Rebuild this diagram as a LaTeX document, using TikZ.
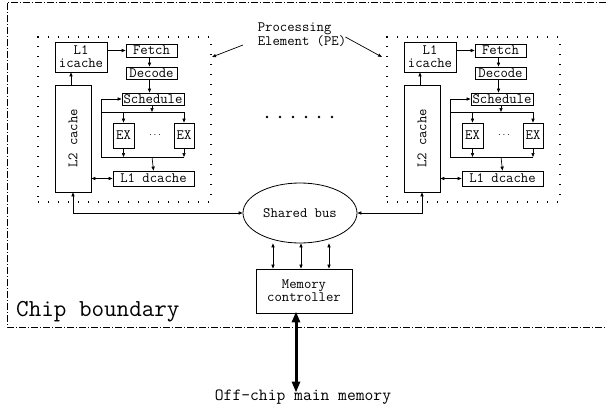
\documentclass[tikz,border=0pt]{standalone}
\usepackage{fontspec}
\usetikzlibrary{arrows.meta,shapes.geometric}
\newcommand\txtsize{\ttfamily\fontsize{14.3}{13}\selectfont}
\tikzset{
  unit/.style={draw, line width=0.8pt, inner sep=0pt, font=\txtsize},
  pebox/.style={draw, line width=1.3pt, dash pattern=on 1.3pt off 8.7pt, inner sep=0pt},
  chipline/.style={line width=0.8pt, dash pattern=on 7pt off 2pt on 1pt off 2pt},
  wire/.style={line width=0.7pt},
  arr/.style={wire, -{Triangle[length=4pt,width=3.2pt]}},
  darr/.style={wire, {Triangle[length=4pt,width=3.2pt]}-{Triangle[length=4pt,width=3.2pt]}},
  label/.style={font=\txtsize, inner sep=0pt},
}
\begin{document}
\begin{tikzpicture}[x=1pt,y=-1pt]
\useasboundingbox (0,0) rectangle (606,407);

% chip boundary
\draw[chipline] (606,2) -- (7,2) -- (7,327) -- (606,327);
\node[label, font=\ttfamily\fontsize{24.4}{24}\selectfont, anchor=west] (chip) at (16,312) {Chip boundary};

% the two processing elements
\foreach \pfx/\dx in {L-/0, R-/349} {
\begin{scope}[xshift=\dx, name prefix=\pfx]
  \node[pebox, minimum width=173, minimum height=165] (pe) at (124.5,119.5) {};
  \node[unit, minimum width=52, minimum height=30, align=center] (icache) at (81,57) {L1\\icache};
  \node[unit, minimum width=51, minimum height=13] (fetch) at (151.5,50.5) {Fetch};
  \node[unit, minimum width=51, minimum height=12] (decode) at (151.5,73) {Decode};
  \node[unit, minimum width=62, minimum height=12] (sched) at (153,99) {Schedule};
  \node[unit, minimum width=36, minimum height=107] (l2) at (73,138.5) {};
  \node[label, rotate=90] (l2text) at (l2.center) {L2 cache};
  \node[unit, minimum width=21, minimum height=25] (ex1) at (123.5,135.5) {EX};
  \node[unit, minimum width=20, minimum height=25] (ex2) at (184,135.5) {EX};
  \node[inner sep=0pt] (exdots) at (155,135) {$\cdots$};
  \node[unit, minimum width=81, minimum height=15] (dcache) at (153.5,178.5) {L1 dcache};

  \coordinate (issue) at (152,112);
  \coordinate (issueL) at (101,112);
  \coordinate (collect) at (152,157);
  \coordinate (collectL) at (101,157);

  \draw[arr] (fetch.west -| icache.east) -- (fetch.west);
  \draw[arr] ([xshift=-2]fetch.south) -- ([xshift=-2]decode.north);
  \draw[arr] ([xshift=-2]decode.south) -- ([xshift=-2]decode.south |- sched.north);
  \draw[arr] (issue |- sched.south) -- (issue);
  \draw[wire] (issueL) -- (issue -| ex2);
  \draw[arr] (issue -| ex1) -- (ex1.north);
  \draw[arr] (issue -| ex2) -- (ex2.north);
  \draw[arr] (ex1.south) -- (collect -| ex1);
  \draw[arr] (ex2.south) -- (collect -| ex2);
  \draw[wire] (collect -| ex2) -- (collectL) -- (collectL |- sched.west);
  \draw[arr] (collectL |- sched.west) -- (sched.west);
  \draw[arr] (collect) -- (dcache.north);
  \draw[arr] ([xshift=-2]l2.north) -- ([xshift=-2]l2.north |- icache.south);
  \draw[darr] (dcache.west -| l2.east) -- (dcache.west);
\end{scope}
}

% label for the processing elements
\node[label, align=left] (pelabel) at (302,35) {Processing\\Element (PE)};
\coordinate (peL) at (212,57);
\coordinate (peR) at (382,57);
\draw[wire, -{Triangle[length=4pt,width=3pt]}] (243,45) -- (peL);
\draw[wire, -{Triangle[length=4pt,width=3pt]}] (pelabel.east) ++(-1,2) -- (peR);

% further processing elements
\foreach \i in {0,...,5} \fill (267+13*\i,117) circle (1.3);

% shared bus and memory controller
\node[draw, line width=0.8pt, ellipse, minimum width=114, minimum height=60, label, draw] (bus) at (300,213) {Shared bus};
\node[unit, minimum width=96, minimum height=44, align=center] (mc) at (304,291) {Memory\\controller};
\draw[darr] (bus.west) -| (L-l2.south);
\draw[darr] (bus.east) -| (R-l2.south);
\foreach \s in {-27,1,29}
  \draw[darr] ([xshift=\s]bus.south) -- ([xshift=\s]bus.south |- mc.north);

% off-chip memory
\node[label, font=\ttfamily\fontsize{17.1}{17}\selectfont] (offchip) at (303,397) {Off-chip main memory};
\draw[line width=3pt, {Triangle[length=11pt,width=8pt]}-{Triangle[length=11pt,width=8pt]}]
  ([yshift=2]mc.south -| 296,0) -- ([yshift=-3]offchip.north -| 296,0);
\end{tikzpicture}
\end{document}
